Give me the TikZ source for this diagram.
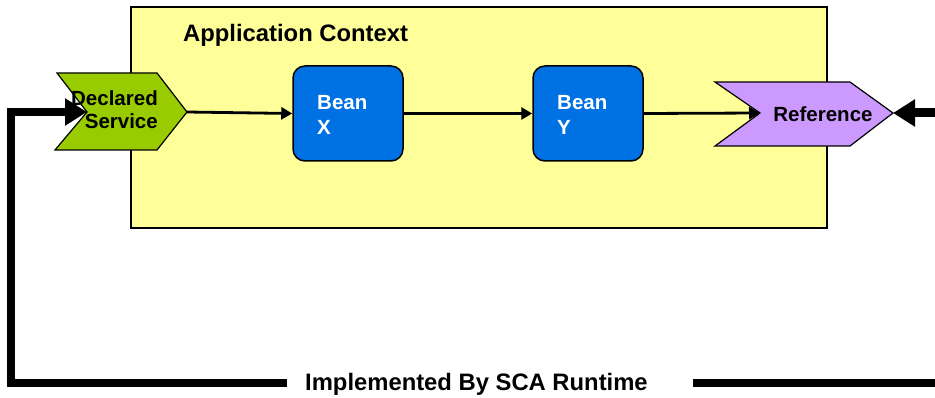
\documentclass[tikz,border=0pt]{standalone}
\usepackage{fontspec}
\setmainfont{Liberation Sans}
\usetikzlibrary{arrows.meta}
\definecolor{ctxyellow}{HTML}{FFFF99}
\definecolor{beanblue}{HTML}{0071E3}
\definecolor{svcgreen}{HTML}{99CC00}
\definecolor{refpurple}{HTML}{CC99FF}
\tikzset{
  ctxbox/.style={draw=black, line width=2.5pt, fill=ctxyellow},
  bean/.style={draw=black, line width=1.5pt, fill=beanblue, rounded corners=12pt,
    minimum width=110pt, minimum height=95pt, inner sep=0pt},
  beantext/.style={text=white, font=\fontsize{20.5}{25}\selectfont\bfseries,
    align=left, anchor=north west, inner sep=0pt},
  chevron/.style={draw=black, line width=1.2pt},
  label/.style={font=\fontsize{20.5}{23}\selectfont\bfseries, inner sep=0pt},
  biglabel/.style={font=\fontsize{23.8}{28}\selectfont\bfseries, inner sep=0pt},
  flow/.style={line width=2.8pt, -{Triangle[length=11pt,width=12pt]}},
  runtime/.style={line width=8pt},
  runtimearrow/.style={line width=8pt, -{Triangle[length=22pt,width=26pt]}},
}
\begin{document}
\begin{tikzpicture}[x=1pt, y=-1pt]
  \useasboundingbox (0,0) rectangle (935,398);

  % application context
  \draw[ctxbox] (131,7) rectangle (827,228);
  \node[biglabel, anchor=base west] (ctx) at (183,42) {Application Context};

  % declared service chevron
  \coordinate (dnotch) at (87,112);
  \coordinate (dtip) at (187,112);
  \draw[chevron, fill=svcgreen] (57,73) -- (157,73) -- (dtip) -- (157,150)
    -- (55,150) -- (dnotch) -- cycle;
  \node[label, align=right, anchor=east] (dsvc) at (158,110) {Declared\\Service};

  % reference chevron
  \coordinate (rnotch) at (760,113);
  \coordinate (rtip) at (893,113);
  \draw[chevron, fill=refpurple] (715,82) -- (850,82) -- (rtip) -- (850,146)
    -- (715,146) -- (rnotch) -- cycle;
  \node[label] (ref) at (823,114) {Reference};

  % beans
  \node[bean] (beanx) at (348,113.5) {};
  \node[beantext] (bxt) at (317,95.5) {Bean\\X};
  \node[bean] (beany) at (588,113.5) {};
  \node[beantext] (byt) at (557,95.5) {Bean\\Y};

  % wiring inside the context
  \draw[flow] (dtip) -- (beanx.west);
  \draw[flow] (beanx.east) -- (beany.west);
  \draw[flow] (beany.east) -- (rnotch);

  % runtime loop
  \node[biglabel, anchor=west] (rt) at (305,384.5) {Implemented By SCA Runtime};
  \coordinate (lbreak) at (287,383);
  \coordinate (rbreak) at (693,383);
  \coordinate (rend) at (935,383);
  \coordinate (rin) at (935,113);
  \coordinate (corner) at (11,383);
  \draw[runtimearrow, line join=miter] (lbreak) -- (corner) |- (dnotch);
  \draw[runtime] (rbreak) -- (rend);
  \draw[runtimearrow, line width=9pt] (rin) -- (rtip);
\end{tikzpicture}
\end{document}
